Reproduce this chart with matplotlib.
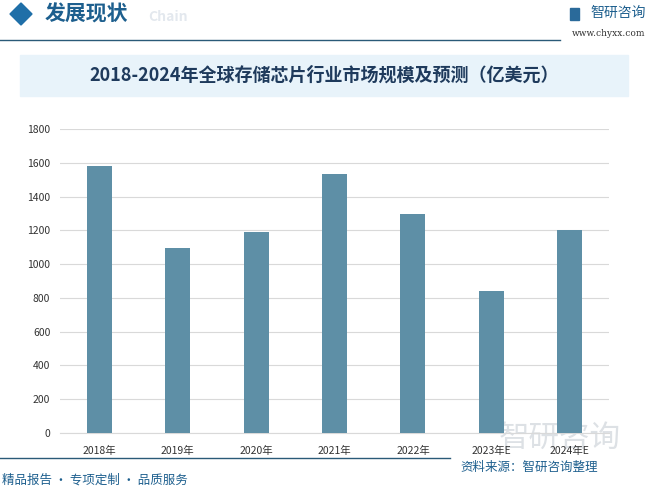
import matplotlib.pyplot as plt
from matplotlib.patches import Rectangle, Polygon

plt.rcParams['font.family'] = ['Noto Sans CJK SC', 'DejaVu Sans']

years = ["2018年", "2019年", "2020年", "2021年", "2022年", "2023年E", "2024年E"]
market = [1582, 1093, 1192, 1536, 1294, 841, 1200]
yticks = [0, 200, 400, 600, 800, 1000, 1200, 1400, 1600, 1800]

W, H = 649, 490
fig = plt.figure(figsize=(W / 100, H / 100), dpi=100)

def fx(px):
    return px / W

def fy(py):
    return 1 - py / H

# header
fig.patches.append(Polygon([[fx(10), fy(14)], [fx(21), fy(3)], [fx(32), fy(14)], [fx(21), fy(25)]],
                           closed=True, transform=fig.transFigure, color="#1f6fa8", zorder=2))
fig.text(fx(45), fy(14), "发展现状", fontsize=15, color="#1d5f8e", fontweight="bold",
         ha="left", va="center")
fig.text(fx(148), fy(17), "Chain", fontsize=10, color="#e3e8ee", fontweight="bold",
         ha="left", va="center")
fig.add_artist(plt.Line2D([0, fx(560)], [fy(40), fy(40)], color="#2a5a78", lw=1.0))
fig.patches.append(Rectangle((fx(570), fy(20)), fx(9), 12 / H, transform=fig.transFigure,
                             color="#2a6a9a", zorder=2))
fig.text(fx(590), fy(13), "智研咨询", fontsize=10, color="#1d5f8e", ha="left", va="center")
fig.text(fx(645), fy(33), "www.chyxx.com", fontsize=6.5, color="#333333", ha="right",
         va="center", family="DejaVu Serif")

# title banner
fig.patches.append(Rectangle((fx(20), fy(96)), fx(608), 41 / H, transform=fig.transFigure,
                             color="#e8f3fa", zorder=1))
fig.text(fx(324), fy(75), "2018-2024年全球存储芯片行业市场规模及预测（亿美元）", fontsize=13,
         color="#1e3a5c", fontweight="bold", ha="center", va="center")

# big faint logo at bottom right, behind the chart
fig.text(fx(560), fy(438), "智研咨询", fontsize=22, color="#dde1e5", ha="center", va="center",
         zorder=-1)

# chart
ax = fig.add_axes([fx(60), fy(433), fx(609 - 60), (433 - 129) / H])
ax.patch.set_alpha(0)
x = range(len(years))
ax.bar(x, market, width=0.32, color="#5e8fa6", zorder=3)
ax.set_ylim(0, 1800)
ax.set_xlim(-0.5, len(years) - 0.5)
ax.set_yticks(yticks)
ax.set_xticks(list(x))
ax.set_xticklabels(years)
ax.tick_params(axis="both", length=0, labelsize=7.5, colors="#333333")
ax.tick_params(axis="y", pad=7)
ax.tick_params(axis="x", pad=9)
ax.grid(axis="y", color="#d9d9d9", lw=0.8, zorder=0)
for s in ["top", "right", "left"]:
    ax.spines[s].set_visible(False)
ax.spines["bottom"].set_color("#d9d9d9")

# footer
fig.add_artist(plt.Line2D([0, fx(450)], [fy(458), fy(458)], color="#2a5a78", lw=1.0))
fig.text(fx(460), fy(467), "资料来源：智研咨询整理", fontsize=9, color="#1d5f8e", ha="left",
         va="center")
fig.text(fx(2), fy(480), "精品报告 · 专项定制 · 品质服务", fontsize=9, color="#1d5f8e",
         ha="left", va="center")

fig.savefig("out.png", dpi=100)
